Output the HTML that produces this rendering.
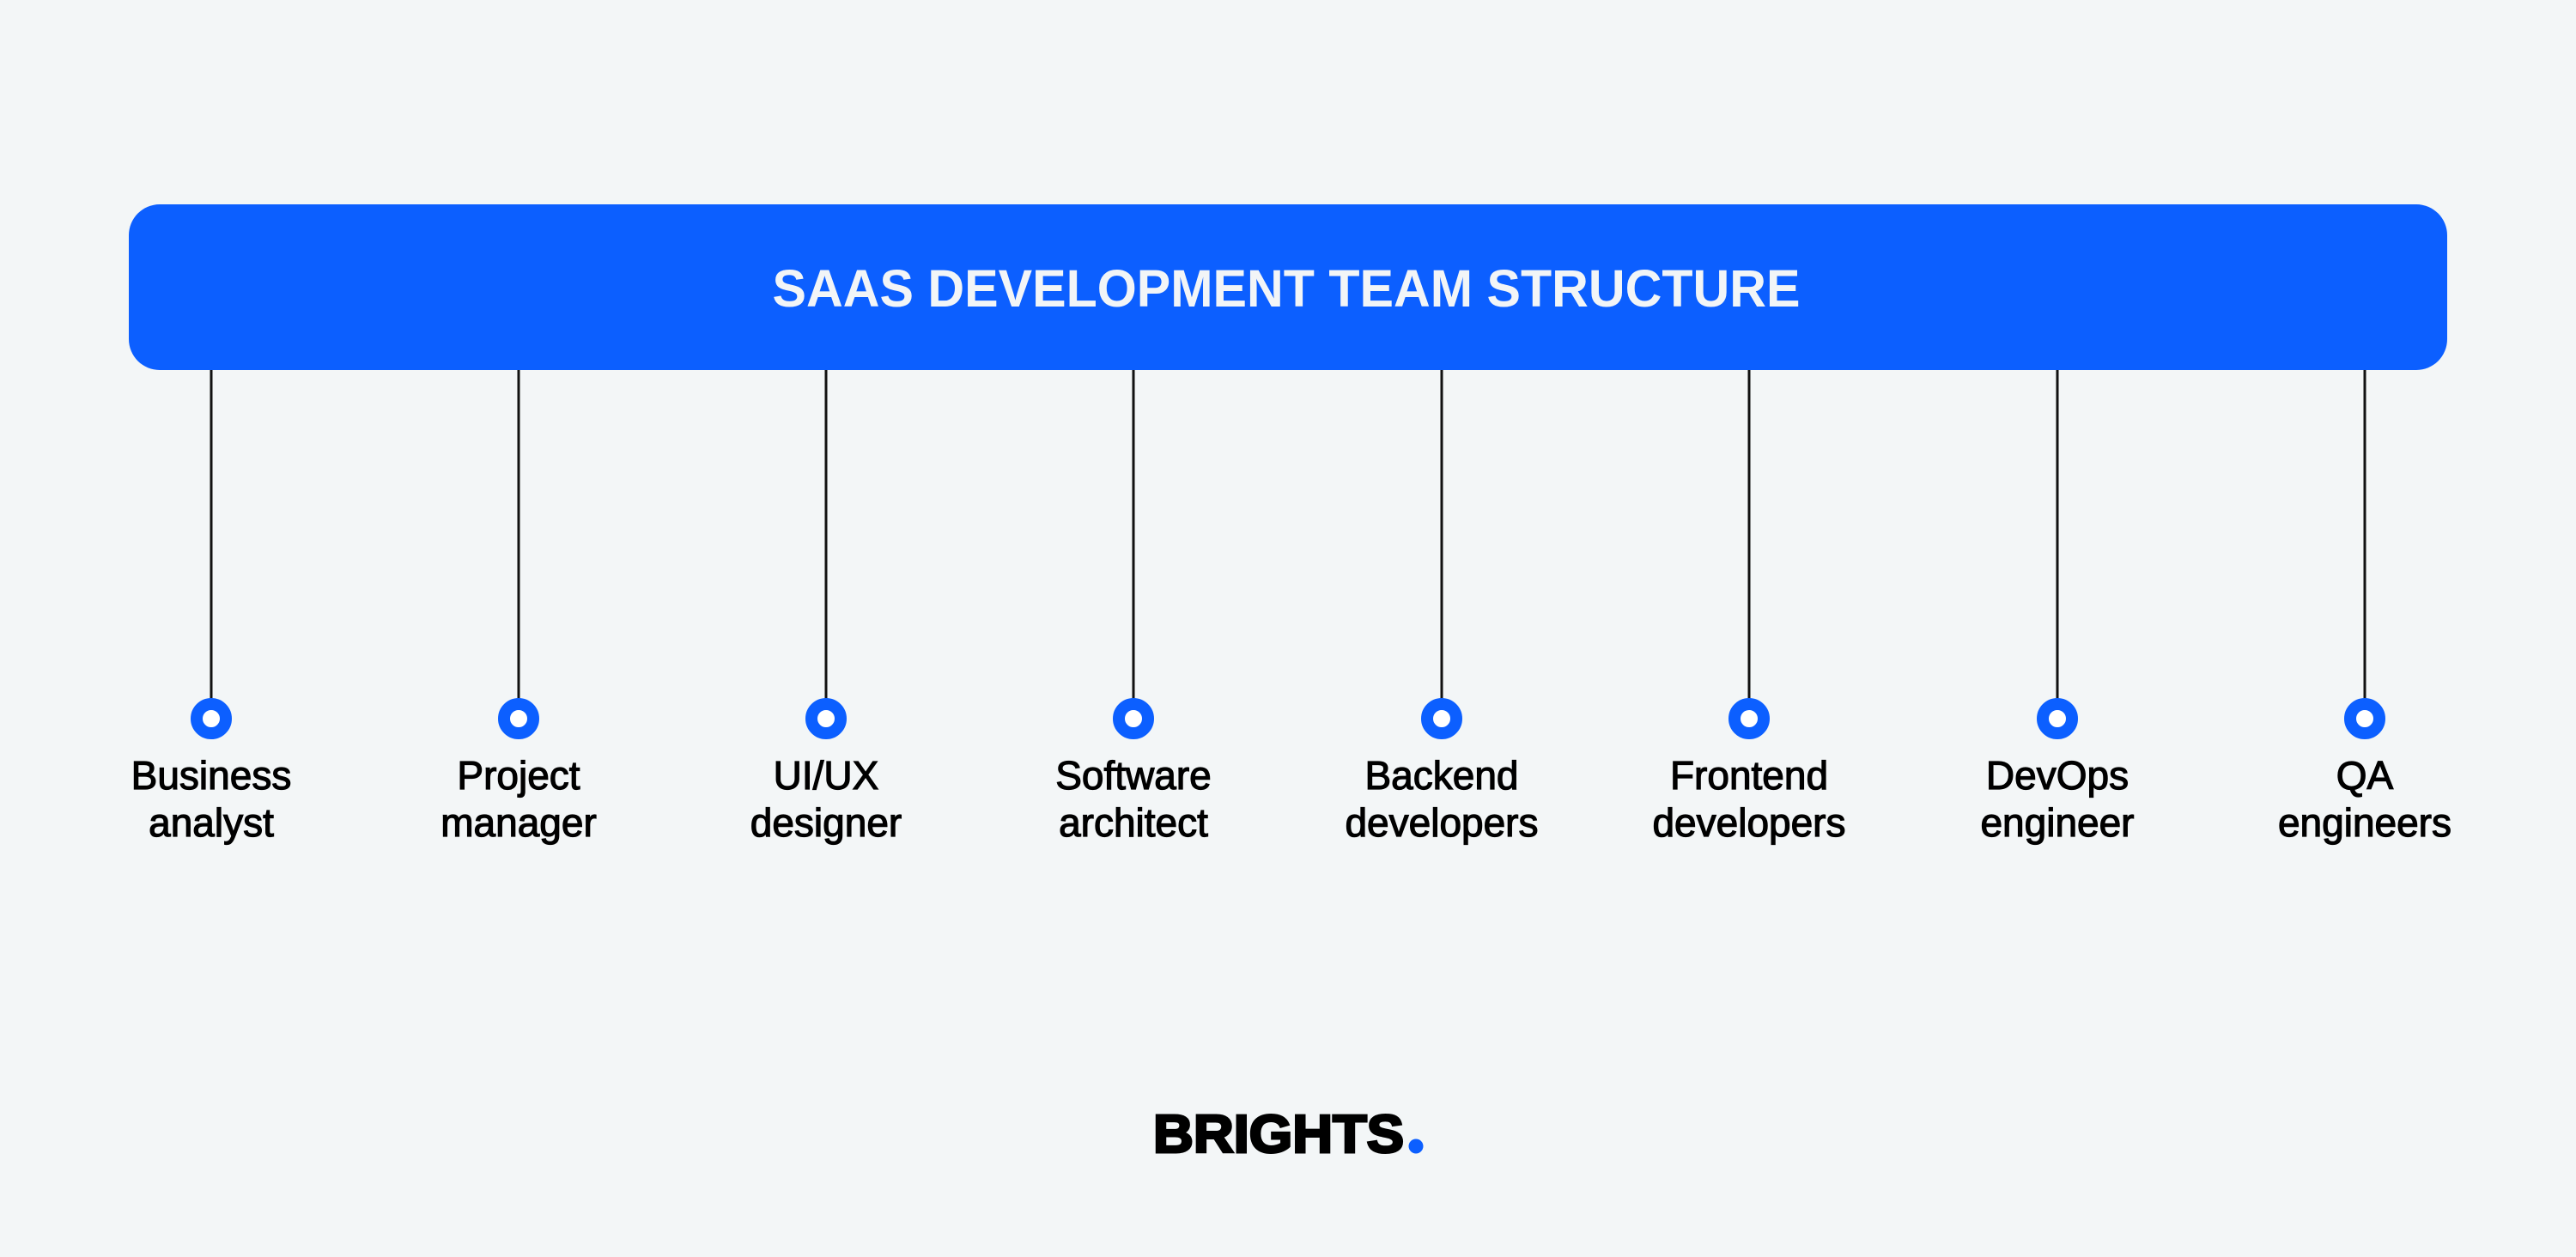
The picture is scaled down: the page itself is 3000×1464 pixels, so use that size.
<!DOCTYPE html>
<html><head><meta charset="utf-8"><style>
html,body{margin:0;padding:0;background:#f3f6f7;}
svg{display:block}
</style></head><body>
<svg width="3000" height="1464" viewBox="0 0 3000 1464" xmlns="http://www.w3.org/2000/svg">
<rect width="3000" height="1464" fill="#f3f6f7"/>
<rect x="150" y="238" width="2700" height="193" rx="36" fill="#0c5fff"/>
<text x="1498" y="357" text-anchor="middle" font-family="Liberation Sans, sans-serif" font-weight="bold" font-size="61" fill="#f2f5f7" textLength="1197" lengthAdjust="spacingAndGlyphs">SAAS DEVELOPMENT TEAM STRUCTURE</text>
<g stroke="#111" stroke-width="3">
<line x1="246" y1="431" x2="246" y2="815"/>
<line x1="604" y1="431" x2="604" y2="815"/>
<line x1="962" y1="431" x2="962" y2="815"/>
<line x1="1320" y1="431" x2="1320" y2="815"/>
<line x1="1679" y1="431" x2="1679" y2="815"/>
<line x1="2037" y1="431" x2="2037" y2="815"/>
<line x1="2396" y1="431" x2="2396" y2="815"/>
<line x1="2754" y1="431" x2="2754" y2="815"/>
</g>
<g fill="#fff" stroke="#0c5fff" stroke-width="14">
<circle cx="246" cy="837" r="17"/>
<circle cx="604" cy="837" r="17"/>
<circle cx="962" cy="837" r="17"/>
<circle cx="1320" cy="837" r="17"/>
<circle cx="1679" cy="837" r="17"/>
<circle cx="2037" cy="837" r="17"/>
<circle cx="2396" cy="837" r="17"/>
<circle cx="2754" cy="837" r="17"/>
</g>
<g font-family="Liberation Sans, sans-serif" font-size="46" fill="#000" text-anchor="middle" stroke="#000" stroke-width="1.2">
<text x="246" y="919">Business</text><text x="246" y="974">analyst</text>
<text x="604" y="919">Project</text><text x="604" y="974">manager</text>
<text x="962" y="919">UI/UX</text><text x="962" y="974">designer</text>
<text x="1320" y="919">Software</text><text x="1320" y="974">architect</text>
<text x="1679" y="919">Backend</text><text x="1679" y="974">developers</text>
<text x="2037" y="919">Frontend</text><text x="2037" y="974">developers</text>
<text x="2396" y="919">DevOps</text><text x="2396" y="974">engineer</text>
<text x="2754" y="919">QA</text><text x="2754" y="974">engineers</text>
</g>
<text x="1343" y="1342" font-family="Liberation Sans, sans-serif" font-weight="bold" font-size="62" fill="#000" stroke="#000" stroke-width="3" textLength="292" lengthAdjust="spacingAndGlyphs">BRIGHTS</text>
<circle cx="1649" cy="1335" r="8.5" fill="#0c5fff"/>
</svg>
</body></html>
